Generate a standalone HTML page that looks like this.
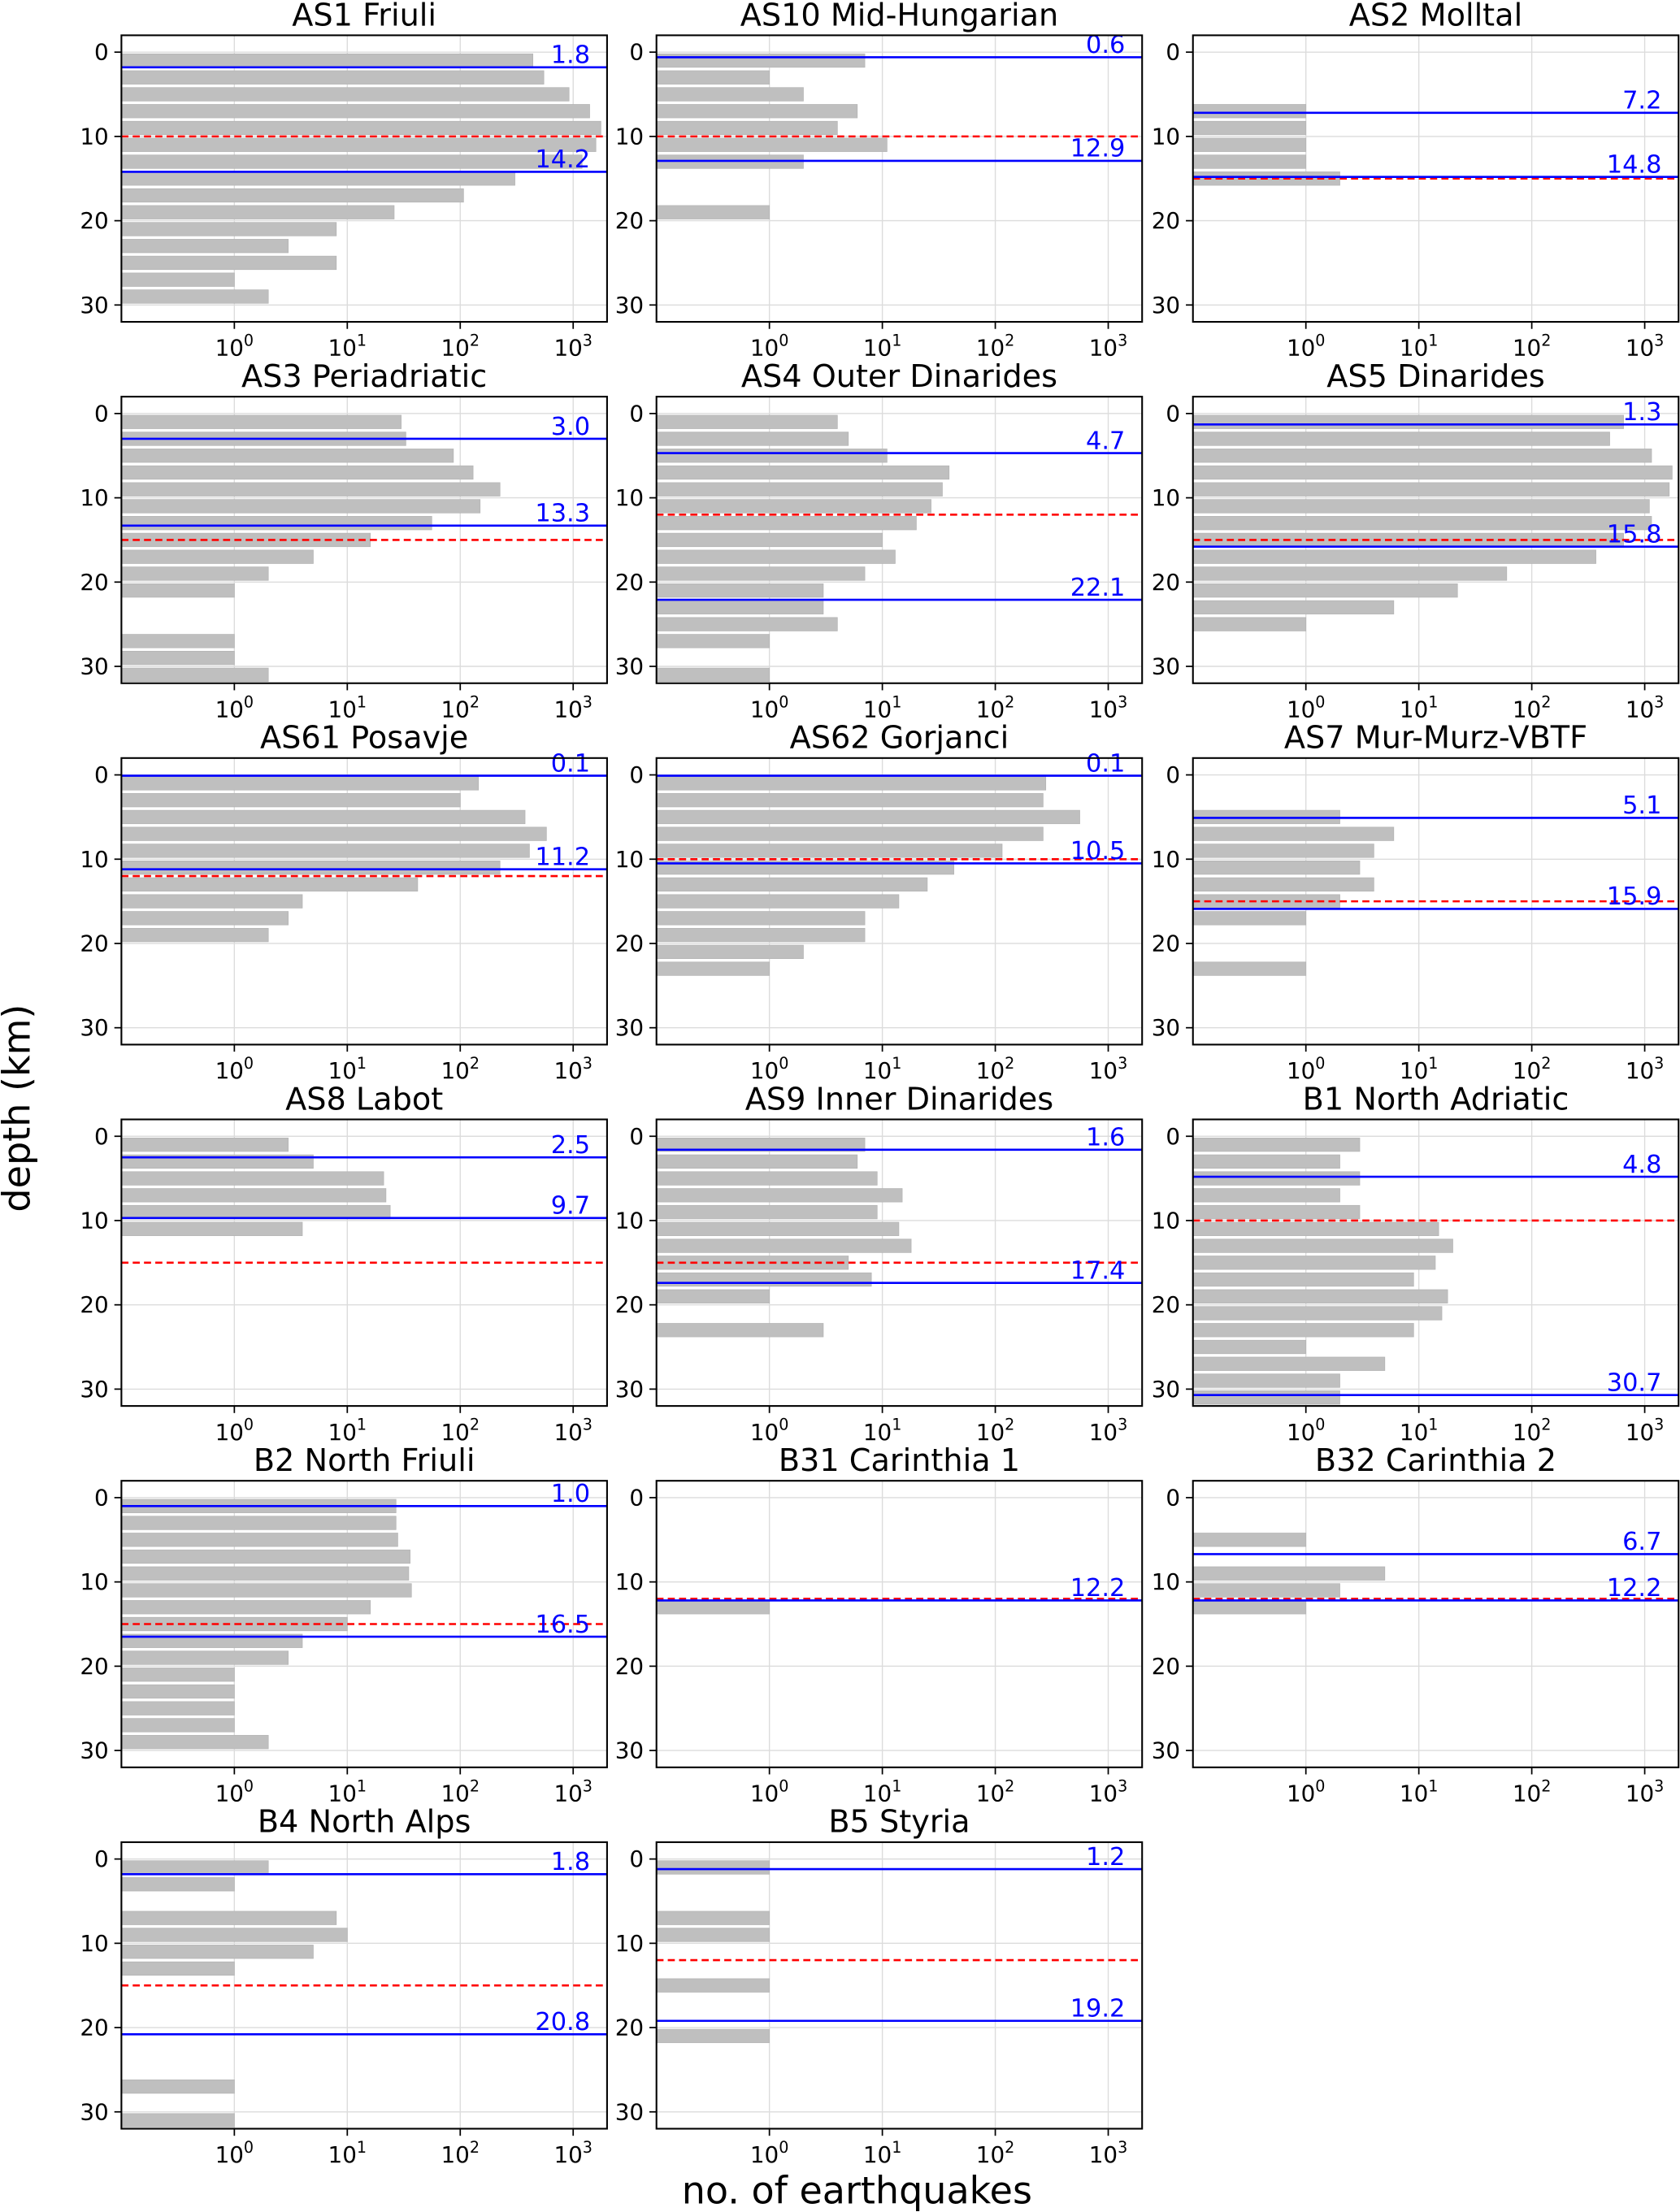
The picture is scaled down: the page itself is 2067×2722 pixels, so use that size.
<!DOCTYPE html>
<html><head><meta charset="utf-8"><style>html,body{margin:0;padding:0;background:#fff}svg{display:block}</style></head>
<body>
<svg id="chart" xmlns="http://www.w3.org/2000/svg" width="2067" height="2722" viewBox="0 0 1190 1567" preserveAspectRatio="none" font-family="'DejaVu Sans','Liberation Sans',sans-serif"></svg>
<script>
const panelTitles = ["AS1 Friuli","AS10 Mid-Hungarian","AS2 Molltal","AS3 Periadriatic","AS4 Outer Dinarides","AS5 Dinarides","AS61 Posavje","AS62 Gorjanci","AS7 Mur-Murz-VBTF","AS8 Labot","AS9 Inner Dinarides","B1 North Adriatic","B2 North Friuli","B31 Carinthia 1","B32 Carinthia 2","B4 North Alps","B5 Styria"];
const depthBins = [1,3,5,7,9,11,13,15,17,19,21,23,25,27,29,31];
const counts = [
 [440,550,920,1400,1760,1590,1200,305,107,26,8,3,8,1,2,0],
 [7,1,2,6,4,11,2,0,0,1,0,0,0,0,0,0],
 [0,0,0,1,1,1,1,2,0,0,0,0,0,0,0,0],
 [30,33,87,130,225,150,56,16,5,2,1,0,0,1,1,2],
 [4,5,11,39,34,27,20,10,13,7,3,3,4,1,0,1],
 [650,490,1150,1750,1650,1100,1150,650,370,60,22,6,1,0,0,0],
 [145,100,375,580,410,225,42,4,3,2,0,0,0,0,0,0],
 [280,265,560,265,115,43,25,14,7,7,2,1,0,0,0,0],
 [0,0,2,6,4,3,4,2,1,0,0,1,0,0,0,0],
 [3,5,21,22,24,4,0,0,0,0,0,0,0,0,0,0],
 [7,6,9,15,9,14,18,5,8,1,0,3,0,0,0,0],
 [3,2,3,2,3,15,20,14,9,18,16,9,1,5,2,2],
 [27,27,28,36,35,37,16,10,4,3,1,1,1,1,2,0],
 [0,0,0,0,0,0,1,0,0,0,0,0,0,0,0,0],
 [0,0,1,0,5,2,1,0,0,0,0,0,0,0,0,0],
 [2,1,0,8,10,5,1,0,0,0,0,0,0,1,0,1],
 [1,0,0,1,1,0,0,1,0,0,1,0,0,0,0,0]
];
const upperDepth = [1.8,0.6,7.2,3.0,4.7,1.3,0.1,0.1,5.1,2.5,1.6,4.8,1.0,null,6.7,1.8,1.2];
const lowerDepth = [14.2,12.9,14.8,13.3,22.1,15.8,11.2,10.5,15.9,9.7,17.4,30.7,16.5,12.2,12.2,20.8,19.2];
const refDepth = [10,10,15,15,12,15,12,10,15,15,15,10,15,12,12,15,12];
const depthTicks = [0,10,20,30];
const xTickExps = [0,1,2,3];

const svg = document.getElementById('chart');
const NS = 'http://www.w3.org/2000/svg';
function mk(tag, attrs, parent){const e=document.createElementNS(NS,tag);for(const k in attrs)e.setAttribute(k,attrs[k]);(parent||svg).appendChild(e);return e;}
const PW=344, PH=203, colX=[86,465,845], rowY0=25, rowStep=256;
const D0=-2, D1=32, L0=-1, L1=3.3;

panelTitles.forEach((title,i)=>{
  const px=colX[i%3], py=rowY0+Math.floor(i/3)*rowStep;
  const yS=d=>py+(d-D0)/(D1-D0)*PH;
  const xS=v=>px+(Math.log10(v)-L0)/(L1-L0)*PW;
  const g=mk('g',{});
  
  
  const clipId='c'+i;
  const cp=mk('clipPath',{id:clipId},g);mk('rect',{x:px,y:py,width:PW,height:PH},cp);
  xTickExps.forEach(e=>{const x=xS(Math.pow(10,e));const l=mk('line',{x1:x,x2:x,y1:py,y2:py+PH,stroke:'#dcdcdc','stroke-width':0.8},g);});
  depthTicks.forEach(d=>{const y=yS(d);const l=mk('line',{x1:px,x2:px+PW,y1:y,y2:y,stroke:'#dcdcdc','stroke-width':0.8},g);});
  const bg=mk('g',{'clip-path':'url(#'+clipId+')'},g);
  depthBins.forEach((d,j)=>{const v=counts[i][j];if(!v)return;
    const r=mk('rect',{x:px,y:yS(d-0.8),width:Math.max(0,xS(v)-px),height:yS(d+0.8)-yS(d-0.8),fill:'#bfbfbf',stroke:'#b3b3b3','stroke-width':0.4},bg);
    });
  const ry=yS(refDepth[i]);
  const rl=mk('line',{x1:px,x2:px+PW,y1:ry,y2:ry,stroke:'#ff0000','stroke-width':1.5,'stroke-dasharray':'5,3'},g);
  
  [upperDepth[i],lowerDepth[i]].forEach((d,k)=>{if(d===null)return;const y=yS(d);
    const l=mk('line',{x1:px,x2:px+PW,y1:y,y2:y,stroke:'#0000ff','stroke-width':1.5},g);
    
    const t=mk('text',{x:px+PW-12,y:y-3,'text-anchor':'end','font-size':17.5,fill:'#0000ff'},g);t.textContent=d.toFixed(1);
    });
  const f=mk('rect',{x:px,y:py,width:PW,height:PH,fill:'none',stroke:'#000','stroke-width':1.2},g);
  
  depthTicks.forEach(d=>{const y=yS(d);mk('line',{x1:px-5,x2:px,y1:y,y2:y,stroke:'#000','stroke-width':1},g);
    const t=mk('text',{x:px-9,y:y+5.5,'text-anchor':'end','font-size':16,fill:'#000'},g);t.textContent=d;
    });
  xTickExps.forEach(e=>{const x=xS(Math.pow(10,e));mk('line',{x1:x,x2:x,y1:py+PH,y2:py+PH+5,stroke:'#000','stroke-width':1},g);
    const t=mk('text',{x:x,y:py+PH+24,'text-anchor':'middle','font-size':16,fill:'#000'},g);
    
    const a=mk('tspan',{},t);a.textContent='10';const b=mk('tspan',{dy:-7,'font-size':11},t);b.textContent=e;});
  const tt=mk('text',{x:px+PW/2,y:py-7,'text-anchor':'middle','font-size':22,fill:'#000'},g);tt.textContent=title;
  
});
const yl=mk('text',{x:0,y:0,transform:'translate(21,785) rotate(-90)','text-anchor':'middle','font-size':26.5,fill:'#000'});
yl.textContent='depth (km)';


const xl=mk('text',{x:607,y:1561,'text-anchor':'middle','font-size':26.5,fill:'#000'});
xl.textContent='no. of earthquakes';


</script>
</body></html>
